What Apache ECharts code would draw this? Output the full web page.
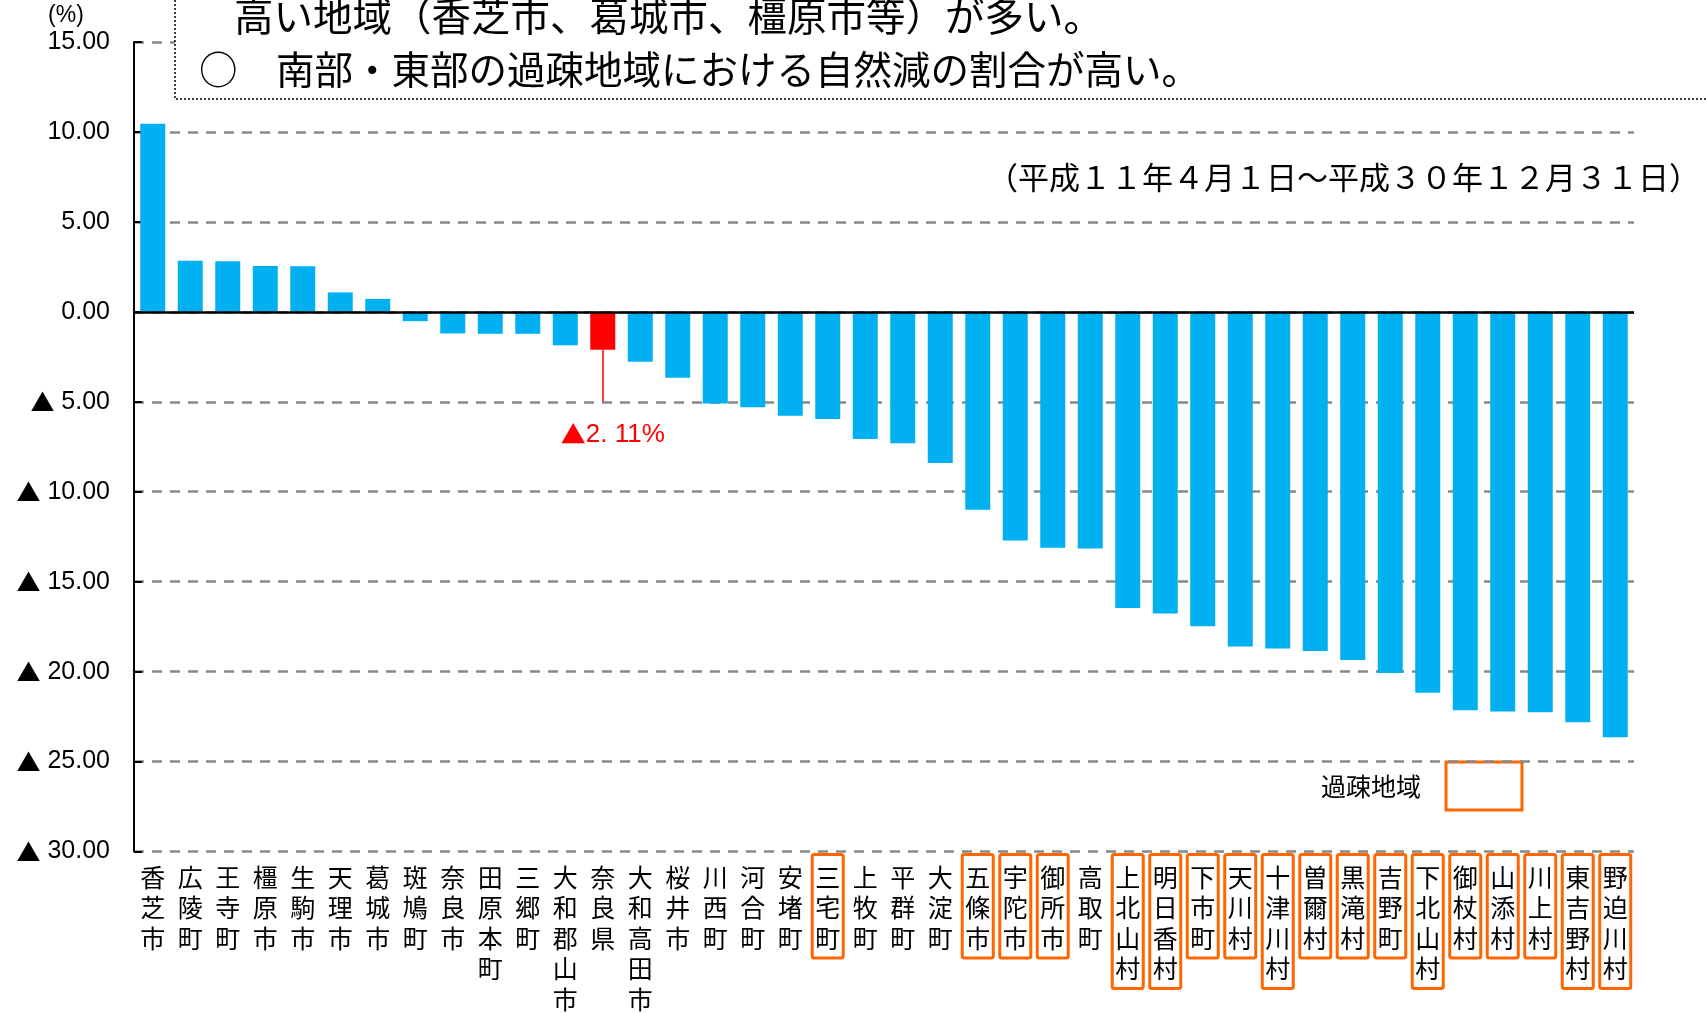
<!DOCTYPE html>
<html>
<head>
<meta charset="utf-8">
<script src="https://cdn.jsdelivr.net/npm/echarts@6/dist/echarts.min.js"></script>
<style>
    html, body { margin: 0; padding: 0; background: #fff; }
    #main { width: 1706px; height: 1013px; }
</style>
</head>
<body>
<div id="main"></div>
<script>
// 市町村名
var categories = ['香芝市','広陵町','王寺町','橿原市','生駒市','天理市','葛城市','斑鳩町','奈良市','田原本町',
    '三郷町','大和郡山市','奈良県','大和高田市','桜井市','川西町','河合町','安堵町','三宅町','上牧町',
    '平群町','大淀町','五條市','宇陀市','御所市','高取町','上北山村','明日香村','下市町','天川村',
    '十津川村','曽爾村','黒滝村','吉野町','下北山村','御杖村','山添村','川上村','東吉野村','野迫川村'];
// 人口増減率(%)
var values = [10.46, 2.84, 2.81, 2.55, 2.53, 1.08, 0.72, -0.52, -1.2, -1.22,
    -1.22, -1.86, -2.11, -2.78, -3.67, -5.09, -5.3, -5.77, -5.96, -7.07,
    -7.31, -8.4, -11.0, -12.71, -13.12, -13.15, -16.46, -16.77, -17.48, -18.61,
    -18.72, -18.86, -19.36, -20.08, -21.18, -22.15, -22.22, -22.26, -22.81, -23.65];
// 過疎地域
var kasoAreas = ['三宅町','五條市','宇陀市','御所市','上北山村','明日香村','下市町','天川村','十津川村','曽爾村',
    '黒滝村','吉野町','下北山村','御杖村','山添村','川上村','東吉野村','野迫川村'];
var prefName = '奈良県';
var prefValue = -2.11;
var prefLabel = '2. 11%';
var yMin = -30, yMax = 15, yStep = 5;

var headLine1 = '高い地域（香芝市、葛城市、橿原市等）が多い。';
var headLine2 = '○　南部・東部の過疎地域における自然減の割合が高い。';
var periodText = '（平成１１年４月１日～平成３０年１２月３１日）';
var legendText = '過疎地域';

var blue = '#00b0f0';
var red = '#ff0000';
var orange = '#ff6600';
var jpFont = '"Noto Sans CJK JP", sans-serif';
var numFont = '"Liberation Sans", Arial, sans-serif';

// x軸データ（過疎地域は枠付き）
var xData = categories.map(function (name) {
    if (kasoAreas.indexOf(name) > -1) {
        return {
            value: name,
            textStyle: { borderColor: orange, borderWidth: 3, borderRadius: 2 }
        };
    }
    return name;
});

// 棒データ（奈良県は赤）
var barData = values.map(function (v, i) {
    if (categories[i] === prefName) {
        return { value: v, itemStyle: { color: red } };
    }
    return v;
});

var chart = echarts.init(document.getElementById('main'));
var option = {
    animation: false,
    backgroundColor: '#fff',
    grid: { left: 134, right: 72, top: 42, bottom: 161.5, outerBoundsMode: 'none' },
    xAxis: {
        type: 'category',
        data: xData,
        axisLine: { show: false },
        axisTick: { show: false },
        axisLabel: {
            interval: 0,
            margin: 3,
            color: '#000',
            fontSize: 25,
            lineHeight: 30.5,
            fontFamily: jpFont,
            verticalAlign: 'top',
            padding: [7.5, 3, 4.5, 3],
            formatter: function (v) {
                return v.split('').join('\n');
            }
        }
    },
    yAxis: {
        type: 'value',
        min: yMin,
        max: yMax,
        interval: yStep,
        axisLine: { show: true, lineStyle: { color: '#000', width: 2 } },
        axisTick: { show: true, inside: true, length: 8, lineStyle: { color: '#000', width: 2 } },
        axisLabel: {
            margin: 24,
            color: '#000',
            fontSize: 25,
            fontFamily: numFont,
            formatter: function (v) {
                return v < 0 ? '{t|▲} ' + (-v).toFixed(2) : v.toFixed(2);
            },
            rich: {
                t: { fontSize: 24, fontFamily: jpFont, color: '#000' }
            }
        },
        splitLine: { lineStyle: { color: '#888', width: 2.5, type: [10, 8] } }
    },
    series: [{
        type: 'bar',
        barWidth: 25,
        itemStyle: { color: blue },
        data: barData,
        markLine: {
            silent: true,
            symbol: ['none', 'none'],
            data: [
                {
                    yAxis: 0,
                    lineStyle: { color: '#000', width: 2.5, type: 'solid' },
                    label: { show: false }
                },
                [
                    {
                        coord: [prefName, prefValue],
                        lineStyle: { color: red, width: 1.5, type: 'solid' },
                        label: {
                            show: true,
                            position: 'end',
                            distance: 20,
                            formatter: '{t|▲}' + prefLabel,
                            color: red,
                            fontSize: 26,
                            fontFamily: numFont,
                            padding: [0, 0, 0, 20],
                            rich: {
                                t: { fontSize: 25, fontFamily: jpFont, color: red }
                            }
                        }
                    },
                    { coord: [prefName, -yStep] }
                ]
            ]
        }
    }],
    graphic: [
        // 上部の説明枠
        {
            type: 'rect', z: 100,
            shape: { x: 175, y: -20, width: 1600, height: 119 },
            style: { fill: '#fff', stroke: '#000', lineWidth: 1.5, lineDash: [2, 2] }
        },
        {
            type: 'text', z: 101, x: 234, y: 16,
            style: { text: headLine1, fill: '#000', fontSize: 39.5, fontFamily: jpFont, verticalAlign: 'middle' }
        },
        {
            type: 'text', z: 101, x: 199, y: 69,
            style: { text: headLine2, fill: '#000', fontSize: 38.5, fontFamily: jpFont, verticalAlign: 'middle' }
        },
        // 単位
        {
            type: 'text', x: 66, y: 16,
            style: { text: '(%)', fill: '#000', fontSize: 23, fontFamily: numFont, align: 'center', verticalAlign: 'middle' }
        },
        // 期間
        {
            type: 'text', x: 1700, y: 177,
            style: { text: periodText, fill: '#000', fontSize: 31, fontFamily: jpFont, align: 'right', verticalAlign: 'middle' }
        },
        // 凡例
        {
            type: 'text', x: 1371, y: 786,
            style: { text: legendText, fill: '#000', fontSize: 25, fontFamily: jpFont, align: 'center', verticalAlign: 'middle' }
        },
        {
            type: 'rect',
            shape: { x: 1446, y: 762, width: 76, height: 48 },
            style: { fill: '#fff', stroke: orange, lineWidth: 3 }
        }
    ]
};
chart.setOption(option);
</script>
</body>
</html>
